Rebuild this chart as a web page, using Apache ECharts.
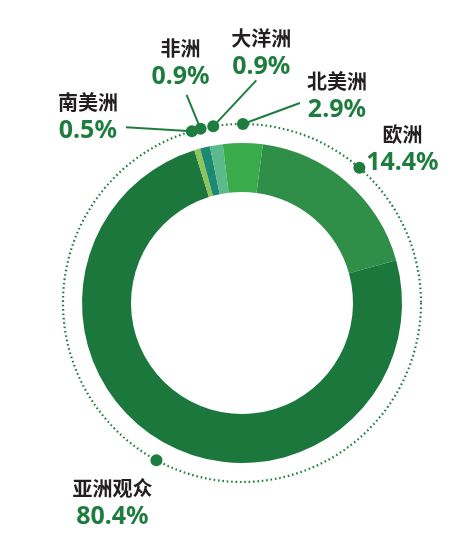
<!DOCTYPE html>
<html lang="zh">
<head>
  <meta charset="UTF-8">
  <title>观众来源分布</title>
  <style>
    * {
      margin: 0;
      padding: 0;
    }

    body {
      background: #ffffff;
      overflow: hidden;
    }

    #chart {
      width: 474px;
      height: 553px;
    }
  </style>
</head>
<body>
  <div id="chart"></div>
  <script src="https://cdn.jsdelivr.net/npm/echarts@6/dist/echarts.min.js"></script>
  <script>
    // clockwise from the 欧洲 slice
    const regions = ['欧洲', '亚洲观众', '南美洲', '非洲', '大洋洲', '北美洲'];
    const shareLabels = ['14.4%', '80.4%', '0.5%', '0.9%', '0.9%', '2.9%'];
    // arc sizes as they are drawn in the ring
    const arcValues = [18.6, 74.5, 0.6, 1.0, 1.3, 4.0];

    const sliceColors = ['#2f8f48', '#1b773c', '#8dc55a', '#1a8a72', '#5cb98c', '#3aab4b'];
    const GREEN = '#1e7d3e';
    const START = 82.5;

    // where each label sits, relative to its dot
    const labelPlace = [
      { dx: 43, dy: -18 },
      { dx: -44, dy: 43 },
      { dx: -104, dy: -14, line: [-66, -4] },
      { dx: -20, dy: -65, line: [-14, -34] },
      { dx: 48, dy: -73, line: [43, -46] },
      { dx: 94, dy: -28, line: [57, -21] }
    ];

    // middle of every slice, in the same units as the angle axis
    let acc = 0;
    const dotData = arcValues.map(v => {
      const mid = acc + v / 2;
      acc += v;
      return [1, mid];
    });

    const chart = echarts.init(document.getElementById('chart'));
    chart.setOption({
      animation: false,
      polar: {
        center: [242, 303],
        radius: 179
      },
      angleAxis: {
        type: 'value',
        min: 0,
        max: 100,
        startAngle: START,
        clockwise: true,
        axisLine: {
          show: true,
          lineStyle: { color: GREEN, width: 2.2, type: [1.6, 2.8] }
        },
        axisTick: { show: false },
        axisLabel: { show: false },
        splitLine: { show: false }
      },
      radiusAxis: {
        type: 'value',
        min: 0,
        max: 1,
        axisLine: { show: false },
        axisTick: { show: false },
        axisLabel: { show: false },
        splitLine: { show: false }
      },
      series: [
        {
          type: 'pie',
          center: [242, 303],
          radius: [111, 160],
          startAngle: START,
          clockwise: true,
          avoidLabelOverlap: false,
          label: { show: false },
          labelLine: { show: false },
          emphasis: { disabled: true },
          itemStyle: { borderWidth: 0 },
          data: regions.map((name, i) => ({
            name: name,
            value: arcValues[i],
            itemStyle: { color: sliceColors[i] }
          }))
        },
        {
          type: 'custom',
          coordinateSystem: 'polar',
          data: dotData,
          z: 5,
          renderItem: (params, api) => {
            const i = params.dataIndex;
            const pt = api.coord([api.value(0), api.value(1)]);
            const p = labelPlace[i];
            const children = [];
            if (p.line) {
              children.push({
                type: 'line',
                shape: { x1: pt[0], y1: pt[1], x2: pt[0] + p.line[0], y2: pt[1] + p.line[1] },
                style: { stroke: GREEN, lineWidth: 2 }
              });
            }
            children.push({
              type: 'circle',
              shape: { cx: pt[0], cy: pt[1], r: 6 },
              style: { fill: GREEN }
            });
            children.push({
              type: 'text',
              x: pt[0] + p.dx,
              y: pt[1] + p.dy,
              style: {
                text: '{n|' + regions[i] + '}\n{p|' + shareLabels[i] + '}',
                align: 'center',
                verticalAlign: 'middle',
                rich: {
                  n: {
                    fontFamily: 'Noto Sans CJK SC',
                    fontWeight: 'bold',
                    fontSize: 20,
                    lineHeight: 27,
                    fill: '#231f20',
                    align: 'center'
                  },
                  p: {
                    fontFamily: 'Noto Sans',
                    fontWeight: 'bold',
                    fontSize: 25,
                    lineHeight: 30,
                    fill: GREEN,
                    align: 'center'
                  }
                }
              }
            });
            return { type: 'group', children: children };
          }
        }
      ]
    });
  </script>
</body>
</html>
